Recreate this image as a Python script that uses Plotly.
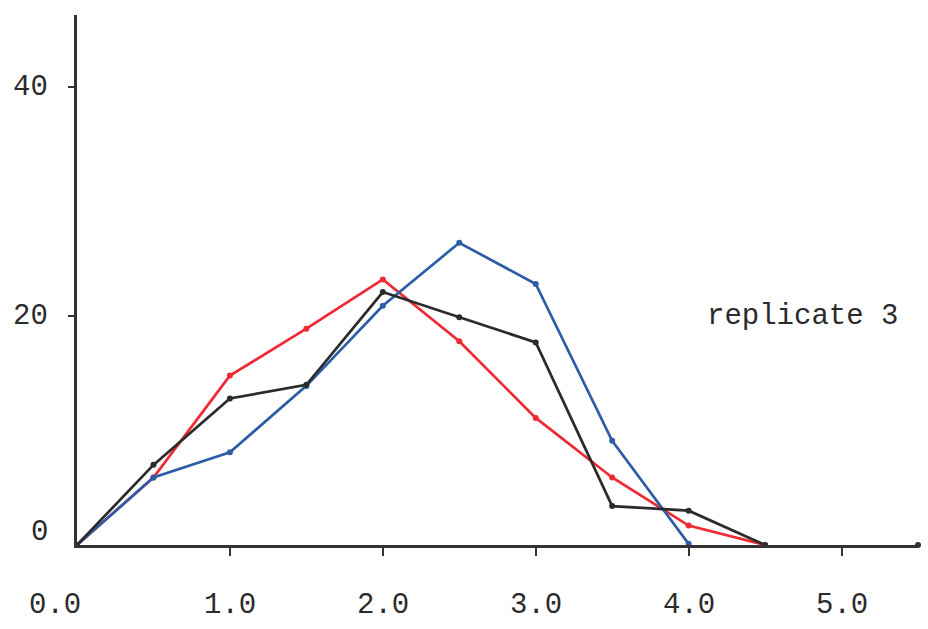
import plotly.graph_objects as go

# Data
x_vals = [0.0, 0.5, 1.0, 1.5, 2.0, 2.5, 3.0, 3.5, 4.0, 4.5]
red_vals = [0.0, 5.9, 14.8, 18.9, 23.2, 17.8, 11.1, 5.9, 1.7, 0.0]
blue_vals = [0.0, 5.9, 8.1, 13.9, 20.9, 26.4, 22.8, 9.1, 0.1]
black_vals = [0.0, 7.0, 12.8, 14.0, 22.1, 19.9, 17.7, 3.4, 3.0, 0.0]

x_ticks = [0, 1, 2, 3, 4, 5]
x_tick_text = ["0.0", "1.0", "2.0", "3.0", "4.0", "5.0"]
y_ticks = [0, 20, 40]
y_tick_text = ["0", "20", "40"]
label_text = "replicate 3"

x_max = 5.5
y_max = 46.3

FONT = "Liberation Mono, Courier New, monospace"
TXT = "#2b2b2b"

series = [
    ("red", red_vals, "#ee2a35"),
    ("blue", blue_vals, "#2c5da6"),
    ("black", black_vals, "#2b2b2b"),
]

fig = go.Figure()
for name, vals, col in series:
    fig.add_trace(go.Scatter(
        x=x_vals[:len(vals)], y=vals, mode="lines+markers", name=name,
        line=dict(color=col, width=2.7),
        marker=dict(color=col, size=6),
        cliponaxis=False, showlegend=False,
    ))

# arrow dot at end of x axis
fig.add_trace(go.Scatter(x=[x_max], y=[0], mode="markers",
                         marker=dict(color="#333333", size=6),
                         cliponaxis=False, showlegend=False, hoverinfo="skip"))

fig.add_annotation(x=4.11, y=20, xref="x", yref="y", text=label_text,
                   showarrow=False, xanchor="left", yanchor="middle",
                   font=dict(family=FONT, size=29, color=TXT))

# typed tick labels (placed like the typewritten originals)
for v, t in zip(x_ticks, x_tick_text):
    fig.add_annotation(x=v, y=0, xref="x", yref="paper", text=t,
                       showarrow=False, xanchor="center", yanchor="middle",
                       yshift=-60, xshift=(-22 if v == 0 else 0),
                       font=dict(family=FONT, size=29, color=TXT))
for v, t in zip(y_ticks, y_tick_text):
    fig.add_annotation(x=0, y=v, xref="paper", yref="y", text=t,
                       showarrow=False, xanchor="right", yanchor="middle",
                       xshift=-27, yshift=(13 if v == 0 else 0),
                       font=dict(family=FONT, size=29, color=TXT))

fig.update_layout(
    width=928, height=629,
    margin=dict(l=77, r=10, t=15, b=84),
    paper_bgcolor="white", plot_bgcolor="white",
    font=dict(family=FONT, size=29, color=TXT),
)
fig.update_xaxes(
    range=[0, x_max], showgrid=False, zeroline=False, automargin=False,
    showline=True, linecolor="#333333", linewidth=2.6,
    tickvals=x_ticks[1:], showticklabels=False,
    ticks="outside", ticklen=8, tickwidth=2, tickcolor="#333333",
)
fig.update_yaxes(
    range=[0, y_max], showgrid=False, zeroline=False, automargin=False,
    showline=True, linecolor="#333333", linewidth=2.6,
    tickvals=y_ticks[1:], showticklabels=False,
    ticks="outside", ticklen=6, tickwidth=2, tickcolor="#333333",
)

fig.write_html("out.html")
